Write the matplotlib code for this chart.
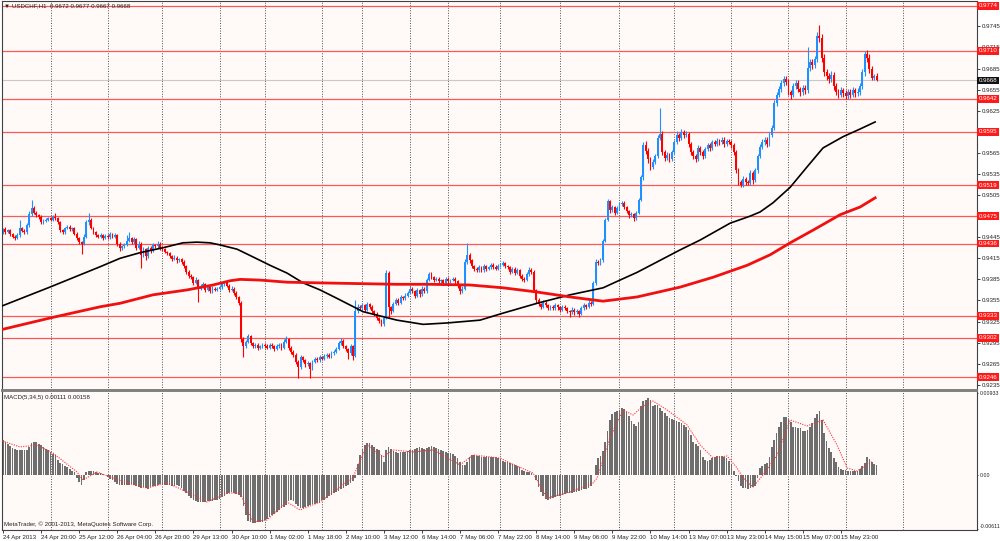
import numpy as np
import matplotlib
matplotlib.use('Agg')
import matplotlib.pyplot as plt
from matplotlib.transforms import blended_transform_factory

plt.rcParams['font.family'] = ['Liberation Sans', 'DejaVu Sans']

# ---- data: USDCHF H1, prices in pips (x 0.0001) ----
first_open = 9452
closes = [
    9456, 9452, 9455, 9450, 9446, 9444, 9448, 9458, 9454, 9452,
    9462, 9478, 9486, 9480, 9476, 9474, 9466, 9468, 9470, 9472,
    9470, 9474, 9472, 9466, 9455, 9452, 9458, 9460, 9456, 9458,
    9450, 9444, 9438, 9436, 9446, 9466, 9470, 9458, 9452, 9448,
    9446, 9448, 9444, 9447, 9445, 9449, 9446, 9448, 9436, 9430,
    9432, 9434, 9440, 9444, 9438, 9442, 9430, 9436, 9420, 9428,
    9418, 9430, 9426, 9434, 9432, 9436, 9430, 9428, 9424, 9422,
    9418, 9414, 9416, 9412, 9414, 9410, 9404, 9396, 9390, 9388,
    9380, 9384, 9372, 9376, 9378, 9370, 9374, 9368, 9372, 9370,
    9372, 9374, 9378, 9380, 9376, 9370, 9372, 9366, 9360, 9352,
    9300, 9290, 9296, 9304, 9294, 9290, 9292, 9288, 9290, 9292,
    9290, 9288, 9292, 9290, 9286, 9290, 9292, 9288, 9296, 9300,
    9288, 9282, 9278, 9268, 9260, 9274, 9270, 9264, 9266, 9258,
    9268, 9272, 9270, 9274, 9272, 9276, 9278, 9275, 9280, 9282,
    9286, 9294, 9298, 9290, 9286, 9280, 9290, 9276, 9340, 9346,
    9344, 9348, 9342, 9350, 9346, 9340, 9336, 9330, 9326, 9322,
    9330, 9394, 9345, 9340, 9350, 9356, 9352, 9360, 9358, 9362,
    9366, 9372, 9368, 9362, 9370, 9364, 9372, 9368, 9384, 9392,
    9388, 9384, 9386, 9382, 9384, 9380, 9386, 9382, 9384, 9386,
    9382, 9376, 9368, 9372, 9410, 9420, 9412, 9404, 9400, 9398,
    9402, 9398, 9404, 9400, 9402, 9406, 9403, 9400, 9404, 9406,
    9408, 9404, 9402, 9396, 9400, 9394, 9398, 9390, 9386, 9384,
    9392, 9398, 9396, 9370, 9356, 9350, 9346, 9352, 9348, 9344,
    9346, 9344, 9348, 9345, 9342, 9346, 9344, 9340, 9338, 9342,
    9338, 9340, 9336, 9344, 9348, 9346, 9352, 9350, 9380, 9410,
    9408, 9412, 9440, 9470, 9496, 9484, 9488, 9480, 9486, 9492,
    9494, 9488, 9482, 9476, 9478, 9472, 9480, 9498, 9530, 9576,
    9568, 9556, 9545, 9552, 9560, 9586, 9592, 9566, 9558, 9562,
    9556, 9566, 9580, 9590, 9586, 9594, 9590, 9592, 9578, 9566,
    9560, 9556, 9572, 9566, 9560, 9570, 9576, 9572, 9580, 9578,
    9582, 9580, 9584, 9578, 9582, 9580, 9576, 9566, 9540, 9524,
    9520, 9528, 9524, 9522, 9536, 9526, 9540, 9560, 9574, 9580,
    9584, 9578, 9590, 9600, 9636, 9648, 9656, 9664, 9670, 9666,
    9652, 9648, 9660, 9664, 9656, 9652, 9658, 9654, 9686, 9694,
    9690, 9698, 9732, 9728, 9700, 9680, 9674, 9670, 9676, 9660,
    9652, 9648, 9654, 9650, 9646, 9652, 9648, 9654, 9650, 9652,
    9660, 9680, 9706, 9700, 9684, 9672, 9674, 9668,
]
wick_up = [
    2, 3, 2, 2, 1, 2, 3, 12, 2, 2,
    3, 4, 12, 3, 2, 2, 2, 3, 2, 2,
    2, 3, 6, 2, 2, 2, 2, 3, 2, 2,
    2, 2, 2, 2, 3, 4, 10, 3, 2, 2,
    2, 3, 2, 2, 2, 3, 2, 3, 2, 2,
    2, 3, 8, 8, 2, 3, 2, 3, 2, 3,
    2, 3, 2, 3, 2, 3, 2, 2, 2, 2,
    2, 2, 3, 2, 2, 2, 3, 2, 2, 2,
    2, 4, 2, 3, 3, 2, 3, 2, 3, 2,
    2, 3, 3, 2, 2, 2, 3, 2, 2, 2,
    2, 3, 3, 3, 2, 2, 3, 2, 2, 3,
    2, 3, 2, 3, 2, 3, 2, 2, 4, 4,
    2, 2, 2, 2, 2, 3, 2, 2, 3, 2,
    2, 3, 2, 3, 2, 3, 2, 2, 3, 3,
    3, 3, 4, 2, 2, 2, 3, 2, 16, 4,
    3, 3, 2, 3, 2, 2, 2, 2, 2, 2,
    2, 4, 3, 2, 3, 3, 2, 3, 2, 3,
    3, 3, 2, 2, 3, 2, 3, 2, 3, 4,
    3, 2, 3, 2, 2, 2, 3, 2, 2, 3,
    2, 2, 2, 3, 4, 17, 3, 2, 2, 3,
    3, 2, 3, 2, 2, 3, 2, 2, 3, 3,
    3, 2, 2, 2, 3, 2, 3, 2, 2, 2,
    3, 4, 3, 2, 2, 2, 2, 3, 2, 2,
    3, 2, 3, 2, 2, 3, 2, 2, 2, 3,
    2, 3, 2, 3, 3, 2, 3, 2, 3, 4,
    3, 3, 3, 3, 3, 2, 3, 2, 3, 3,
    3, 2, 2, 2, 3, 2, 3, 3, 3, 4,
    6, 4, 3, 4, 3, 4, 37, 4, 3, 4,
    3, 3, 4, 6, 3, 5, 3, 4, 3, 3,
    3, 3, 4, 3, 3, 4, 3, 3, 4, 3,
    4, 3, 4, 3, 3, 3, 3, 3, 3, 3,
    3, 4, 3, 3, 4, 3, 4, 4, 4, 5,
    4, 4, 4, 5, 4, 4, 4, 5, 5, 4,
    4, 3, 4, 5, 4, 3, 4, 4, 30, 4,
    4, 5, 5, 15, 6, 5, 4, 5, 5, 4,
    4, 4, 5, 4, 4, 4, 4, 5, 4, 5,
    4, 5, 4, 6, 5, 4, 3, 5,
]
wick_dn = [
    2, 2, 1, 3, 2, 3, 2, 2, 2, 3,
    2, 2, 3, 2, 2, 3, 2, 2, 2, 2,
    2, 2, 2, 2, 3, 3, 2, 2, 2, 2,
    2, 3, 3, 15, 2, 2, 3, 2, 2, 3,
    2, 2, 3, 2, 2, 2, 2, 2, 3, 4,
    3, 2, 2, 2, 3, 2, 3, 2, 19, 3,
    6, 2, 3, 2, 2, 2, 3, 2, 2, 3,
    2, 3, 2, 3, 2, 3, 3, 3, 3, 3,
    3, 2, 19, 2, 3, 3, 2, 3, 2, 2,
    2, 2, 2, 3, 2, 3, 2, 3, 3, 3,
    4, 15, 3, 2, 3, 3, 2, 3, 2, 2,
    2, 2, 2, 2, 3, 2, 2, 3, 2, 2,
    3, 3, 3, 4, 15, 2, 3, 3, 2, 13,
    2, 2, 3, 2, 2, 2, 3, 2, 2, 2,
    2, 2, 2, 3, 3, 8, 3, 6, 2, 3,
    3, 2, 3, 2, 3, 3, 3, 3, 3, 4,
    3, 2, 15, 4, 2, 2, 3, 2, 3, 2,
    2, 2, 3, 4, 2, 4, 2, 3, 2, 2,
    2, 3, 2, 3, 2, 3, 2, 3, 2, 2,
    3, 3, 4, 2, 2, 3, 3, 3, 3, 2,
    2, 3, 2, 3, 2, 2, 3, 2, 2, 2,
    2, 3, 2, 3, 2, 3, 2, 3, 3, 3,
    2, 2, 3, 3, 4, 3, 3, 2, 3, 3,
    2, 3, 2, 3, 3, 2, 3, 3, 6, 2,
    3, 2, 4, 2, 2, 3, 2, 3, 2, 3,
    3, 2, 2, 2, 2, 4, 3, 3, 2, 2,
    3, 3, 3, 3, 2, 4, 2, 2, 2, 3,
    4, 5, 5, 3, 3, 3, 3, 4, 4, 3,
    4, 3, 3, 3, 4, 3, 4, 3, 4, 4,
    4, 4, 3, 4, 4, 3, 3, 4, 3, 3,
    3, 4, 3, 4, 3, 3, 4, 4, 4, 4,
    4, 3, 4, 3, 3, 5, 3, 3, 3, 3,
    4, 4, 3, 3, 3, 4, 4, 4, 4, 5,
    5, 6, 4, 4, 5, 6, 4, 5, 4, 4,
    5, 4, 4, 5, 6, 6, 5, 5, 4, 6,
    5, 5, 4, 5, 4, 4, 5, 4, 5, 4,
    4, 4, 5, 5, 5, 4, 4, 1,
]

# moving averages, sampled points (bar index, price in pips)
ma_black_idx = [-1.3, 19.7, 40.8, 49.2, 57.6, 67.2, 75.6, 81.5, 87.0, 91.2, 98.3, 105.0,
                112.2, 119.3, 126.1, 133.2, 140.3, 151.3, 165.5, 176.5, 186.6, 200.4,
                210.1, 224.4, 238.2, 252.1, 259.2, 266.4, 284.5, 292.9, 305.5, 313.9,
                318.1, 323.5, 330.7, 337.8, 344.5, 348.7, 352.9, 360.1, 366.4]
ma_black_val = [9346, 9374, 9403, 9415, 9423, 9430, 9437, 9438, 9437, 9434, 9428, 9417,
                9405, 9394, 9380, 9370, 9358, 9339, 9327, 9321, 9323, 9327,
                9337, 9351, 9363, 9373, 9384, 9395, 9427, 9441, 9465, 9475,
                9481, 9494, 9516, 9545, 9572, 9580, 9588, 9599, 9609]
ma_red_idx = [-1.3, 19.7, 40.8, 49.2, 63.0, 77.3, 88.2, 95.4, 99.6, 108.0, 119.3, 133.2,
              165.5, 179.4, 196.2, 210.1, 224.4, 238.2, 252.1, 266.4, 284.5, 298.3,
              312.6, 322.3, 330.7, 340.3, 351.7, 360.1, 366.4]
ma_red_val = [9313, 9330, 9346, 9351, 9363, 9370, 9377, 9383, 9385, 9384, 9381, 9380,
              9378, 9378, 9377, 9373, 9367, 9360, 9354, 9360, 9374, 9388,
              9405, 9420, 9437, 9455, 9477, 9488, 9501]

# MACD(5,34,5) histogram per bar, units of 1e-6
macd_hist = [
    4000, 3700, 3500, 3300, 3100, 3000, 2900, 2850, 2800, 2800,
    2900, 3200, 3600, 3800, 3700, 3500, 3400, 3200, 3000, 2900,
    2600, 2400, 2300, 1700, 1400, 1200, 1000, 900, 700, 500,
    300, -300, -800, -1100, -600, 300, 500, 500, 400, 300,
    250, 200, 100, 50, -200, -400, -600, -800, -1000, -1100,
    -1100, -1150, -1100, -1100, -1050, -1100, -1200, -1400, -1500, -1400,
    -1500, -1600, -1400, -1300, -1200, -1100, -1000, -1000, -1100, -1100,
    -1150, -1200, -1200, -1150, -1200, -1500, -1800, -2100, -2400, -2600,
    -2800, -2950, -3050, -3100, -3100, -3050, -3000, -3000, -2950, -2850,
    -2800, -2700, -2500, -2400, -2200, -2000, -1950, -2100, -2200, -2300,
    -2500, -3500, -4600, -5200, -5400, -5500, -5450, -5400, -5350, -5300,
    -5150, -5000, -4800, -4600, -4450, -4200, -4000, -3800, -3600, -3450,
    -3000, -2900, -3000, -3300, -3500, -3700, -3750, -3650, -3550, -3450,
    -3350, -3250, -3200, -3150, -2900, -2800, -2600, -2400, -2250, -2100,
    -1950, -1800, -1650, -1500, -1300, -1100, -900, -700, -300, 1200,
    2300, 3000, 3400, 3600, 3650, 3400, 3200, 3000, 2800, 2300,
    1500, 2800, 3200, 3000, 2700, 2600, 2550, 2600, 2600, 2650,
    2700, 2800, 2900, 3000, 3100, 3150, 3100, 3000, 3050, 3200,
    3250, 3200, 3100, 2950, 2850, 2750, 2650, 2550, 2450, 2350,
    2150, 1900, 1500, 1150, 1100, 1500, 2100, 2250, 2300, 2200,
    2150, 2100, 2100, 2050, 2000, 2000, 2050, 2000, 1900, 1800,
    1600, 1500, 1450, 1400, 1300, 1150, 1000, 900, 600, 400,
    350, 300, 250, 0, -600, -1400, -1900, -2400, -2700, -2800,
    -2750, -2600, -2500, -2400, -2350, -2300, -2200, -2100, -2100, -2000,
    -1950, -1900, -1800, -1700, -1650, -1550, -1450, -1200, 0, 1100,
    1900, 2200, 2700, 3800, 5000, 6300, 6900, 7200, 7300, 7400,
    7600, 7500, 7200, 6700, 6200, 5800, 5600, 6000, 7800, 8400,
    8500, 8800, 8500, 7800, 8000, 8000, 7600, 7300, 7000, 6700,
    6500, 6350, 6250, 6150, 6000, 5900, 5700, 5450, 5100, 4600,
    3700, 3550, 3300, 2900, 2000, 1700, 1600, 1750, 1900, 2000,
    2150, 2200, 2150, 2050, 1950, 1600, 1200, 500, -100, -700,
    -1200, -1450, -1500, -1550, -1450, -1350, -1250, -300, 800, 1000,
    1200, 1400, 2000, 3200, 4000, 4800, 5500, 6000, 6600, 6600,
    6400, 6000, 5500, 5450, 5400, 5300, 5050, 5000, 5150, 5500,
    5900, 6500, 6900, 7300, 6300, 4800, 3900, 3100, 2600, 1900,
    1500, 900, 700, 600, 550, 500, 500, 450, 500, 500,
    700, 1000, 1400, 2000, 1850, 1500, 1250, 1100,
]
# signal line, sampled points (bar index, 1e-6)
signal_idx = [-1.3, 7.1, 14.3, 21.0, 31.1, 33.6, 39.5, 45.0, 52.1, 60.5, 68.9, 75.6, 85.7,
              94.1, 99.6, 105.0, 110.9, 119.3, 124.8, 133.2, 147.1, 152.9, 159.7, 163.9,
              172.3, 180.7, 192.0, 197.5, 208.8, 213.0, 222.7, 228.6, 237.0, 247.9, 249.6,
              255.0, 260.5, 264.7, 268.9, 273.1, 279.0, 287.4, 292.9, 298.3, 304.2, 308.4,
              310.9, 315.1, 319.3, 325.2, 330.7, 337.8, 344.5, 350.4, 354.6, 358.8, 365.5]
signal_val = [3980, 3190, 3410, 2500, 340, -570, 340, -230, -910, -1480, -910, -1710, -3070,
              -2050, -2050, -5350, -5120, -3070, -3980, -3070, -230, 3410, 2050, 2850,
              2620, 2850, 1140, 2280, 1930, 1370, 230, -2620, -2050, -910, -340,
              4210, 7400, 6830, 7850, 8420, 7400, 5690, 3410, 1930, 2160, 800,
              -340, -1370, 0, 2280, 6260, 5580, 6260, 3410, 800, 460, 1580]

level_lines = [9774, 9710, 9642, 9595, 9519, 9475, 9436, 9333, 9302, 9246]
bid_price = 9668
price_ticks = [9235, 9265, 9295, 9325, 9355, 9385, 9415, 9445, 9505, 9535, 9565,
               9625, 9655, 9685, 9715, 9745]
macd_ticks = [-6110, 0, 9330]
macd_tick_labels = ['-0.00611', '0.00', '0.00933']

date_labels = ['24 Apr 2013', '24 Apr 20:00', '25 Apr 12:00', '26 Apr 04:00', '26 Apr 20:00',
               '29 Apr 13:00', '30 Apr 10:00', '1 May 02:00', '1 May 18:00', '2 May 10:00',
               '3 May 12:00', '6 May 14:00', '7 May 06:00', '7 May 22:00', '8 May 14:00',
               '9 May 06:00', '9 May 22:00', '10 May 14:00', '13 May 07:00', '13 May 23:00',
               '14 May 15:00', '15 May 07:00', '15 May 23:00']
label_step = 16
day_grid = [20, 44, 67, 91, 110, 134, 151, 171, 187, 209, 234, 259, 282, 306, 330, 354, 378]

# ---- build candles ----
c = np.array(closes) / 1e4
o = np.array([first_open] + closes[:-1]) / 1e4
hi = np.maximum(o, c) + np.array(wick_up) / 1e4
lo = np.minimum(o, c) - np.array(wick_dn) / 1e4
idx = np.arange(len(c))
bull = c >= o
col = np.where(bull, '#1E90FF', '#FF0000')

bg = '#FFFAF8'
fs = 4.4
fig = plt.figure(figsize=(10, 5.41), dpi=100, facecolor='white')
ax = fig.add_axes([0.002, 151 / 541, 0.975, 389 / 541], facecolor=bg)
ax2 = fig.add_axes([0.002, 11 / 541, 0.975, 139 / 541], facecolor=bg)

xlim = (-0.42, 409.2)

# day separators (dotted)
for g in day_grid:
    ax.axvline(g, color='#505050', lw=0.7, ls=(0, (1, 1.6)), zorder=0.5)
    ax2.axvline(g, color='#505050', lw=0.7, ls=(0, (1, 1.6)), zorder=0.5)

# support / resistance lines + bid line
for lv in level_lines:
    ax.axhline(lv / 1e4, color='#FF5555', lw=0.9, zorder=1)
ax.axhline(bid_price / 1e4, color='#C8C8C8', lw=0.8, zorder=1)

# candles
ax.vlines(idx, lo, hi, colors=col, lw=0.8, zorder=2)
body = np.maximum(np.abs(c - o), 0.00004)
ax.bar(idx, body, bottom=np.minimum(o, c), width=0.78, color=col, lw=0, zorder=2.1)

ax.plot(ma_black_idx, np.array(ma_black_val) / 1e4, color='black', lw=1.2, zorder=3)
ax.plot(ma_red_idx, np.array(ma_red_val) / 1e4, color='#F01010', lw=2.0, zorder=3)

ax.set_xlim(*xlim)
ax.set_ylim(0.92276, 0.97811)
ax.set_xticks([])
ax.yaxis.tick_right()
ax.set_yticks(np.array(price_ticks) / 1e4)
ax.set_yticklabels([f'{p / 1e4:.4f}' for p in price_ticks])
ax.tick_params(axis='y', labelsize=fs, length=2, pad=1.5, colors='#222222', width=0.6)

# price tags on the right edge
tr = blended_transform_factory(ax.transAxes, ax.transData)
for lv in level_lines:
    ax.text(1.0016, lv / 1e4, f'{lv / 1e4:.4f}', transform=tr, fontsize=fs, color='white',
            va='center', ha='left', clip_on=False, zorder=5,
            bbox=dict(boxstyle='square,pad=0.22', fc='#FF1A1A', ec='none'))
ax.text(1.0016, bid_price / 1e4, f'{bid_price / 1e4:.4f}', transform=tr, fontsize=fs,
        color='white', va='center', ha='left', clip_on=False, zorder=5,
        bbox=dict(boxstyle='square,pad=0.22', fc='#111111', ec='none'))

# MACD panel
ax2.bar(idx, np.array(macd_hist), width=0.72, color='#6E6E6E', lw=0, zorder=2)
ax2.plot(signal_idx, signal_val, color='#FF3030', lw=0.8, ls=(0, (1, 1.2)), zorder=3)
ax2.set_xlim(*xlim)
ax2.set_ylim(-6260, 9560)
ax2.yaxis.tick_right()
ax2.set_yticks(macd_ticks)
ax2.set_yticklabels(macd_tick_labels)
ax2.tick_params(axis='y', labelsize=3.8, length=1, pad=1, colors='#222222', width=0.6)
ax2.get_yticklabels()[0].set_va('bottom')

tick_pos = [i * label_step for i in range(len(date_labels))]
ax2.set_xticks(tick_pos)
ax2.set_xticklabels(date_labels)
ax2.tick_params(axis='x', labelsize=fs, length=2, pad=1.5, colors='#222222', width=0.6)
for lbl in ax2.get_xticklabels():
    lbl.set_ha('left')

for a in (ax, ax2):
    for s in a.spines.values():
        s.set_color('#404040')
        s.set_linewidth(0.8)
ax.spines['bottom'].set_color('#808080')
ax.spines['bottom'].set_linewidth(1.4)
ax2.spines['top'].set_color('#808080')
ax2.spines['top'].set_linewidth(1.4)

# captions
fig.text(0.004, 1 - 6 / 541, '\u25BC USDCHF,H1  0.9672 0.9677 0.9667 0.9668', fontsize=fs,
         va='center', ha='left', color='#222222')
fig.text(0.004, 1 - 397 / 541, 'MACD(5,34,5) 0.00111 0.00158', fontsize=fs,
         va='center', ha='left', color='#222222')
fig.text(0.004, 1 - 524 / 541, 'MetaTrader, \u00A9 2001-2013, MetaQuotes Software Corp.',
         fontsize=fs, va='center', ha='left', color='#222222')

plt.savefig('out.png', dpi=100, facecolor='white')
plt.close()
